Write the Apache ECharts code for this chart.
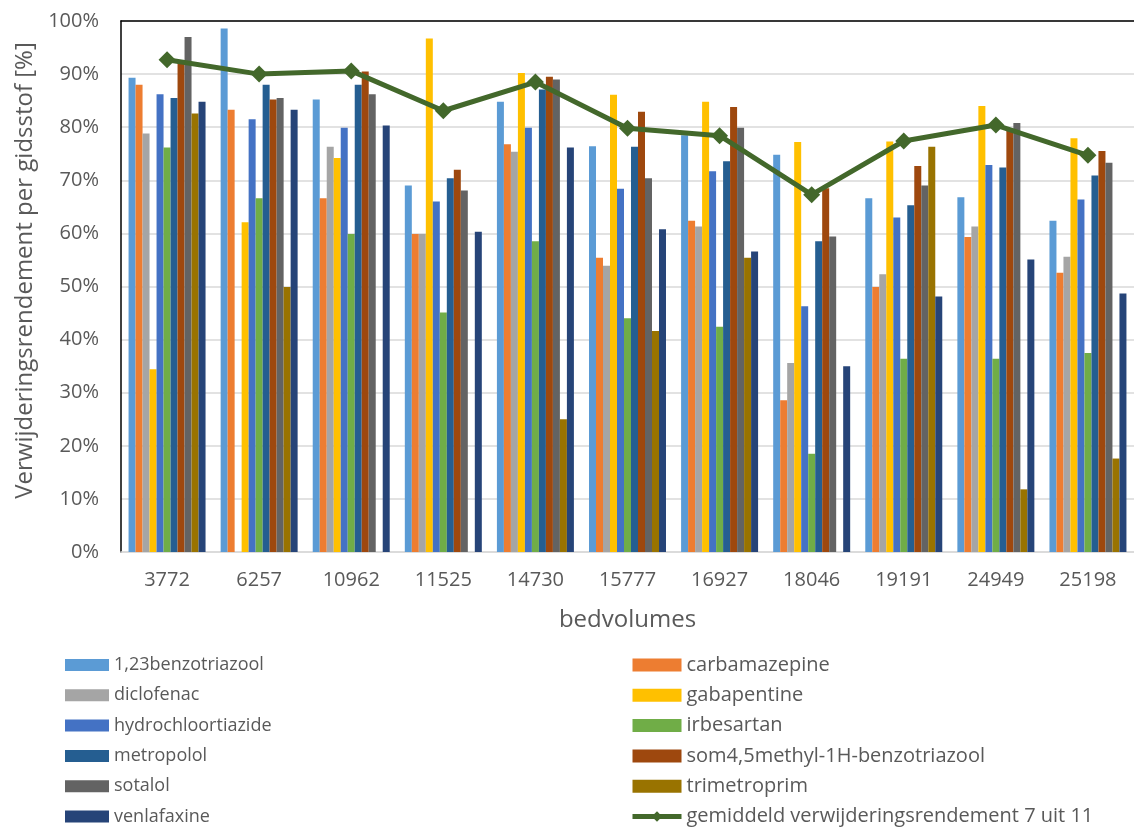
<!DOCTYPE html>
<html>
<head>
<meta charset="utf-8">
<script src="https://cdn.jsdelivr.net/npm/echarts@6/dist/echarts.min.js"></script>
<style>
  html, body { margin: 0; padding: 0; background: #ffffff; }
  #chart { width: 1134px; height: 830px; }
</style>
</head>
<body>
<div id="chart"></div>
<script>
// Bed volumes on the category axis
const bedvolumes = ['3772', '6257', '10962', '11525', '14730', '15777', '16927', '18046', '19191', '24949', '25198'];

// Removal efficiency per guide substance [%] ('-' = no value)
const benzotriazool      = [89.3, 98.6, 85.2, 69.0, 84.8, 76.4, 78.5, 74.8, 66.6, 66.8, 62.4];
const carbamazepine      = [88.0, 83.3, 66.6, 59.9, 76.8, 55.4, 62.4, 28.6, 49.9, 59.3, 52.6];
const diclofenac         = [78.8, '-', 76.3, 59.9, 75.4, 53.9, 61.3, 35.6, 52.3, 61.3, 55.6];
const gabapentine        = [34.4, 62.1, 74.2, 96.7, 90.2, 86.1, 84.8, 77.2, 77.3, 84.0, 77.9];
const hydrochloortiazide = [86.2, 81.5, 79.9, 66.0, 79.9, 68.4, 71.7, 46.3, 63.0, 72.9, 66.4];
const irbesartan         = [76.2, 66.6, 59.9, 45.1, 58.5, 44.0, 42.4, 18.5, 36.4, 36.4, 37.5];
const metropolol         = [85.5, 88.0, 88.0, 70.4, 87.1, 76.3, 73.6, 58.5, 65.3, 72.4, 70.9];
const som45methyl        = [92.3, 85.2, 90.5, 72.0, 89.5, 82.9, 83.8, 68.5, 72.7, 79.8, 75.5];
const sotalol            = [97.0, 85.5, 86.2, 68.1, 89.0, 70.4, 79.9, 59.4, 69.0, 80.8, 73.3];
const trimetroprim       = [82.6, 49.9, '-', '-', 25.0, 41.6, 55.4, '-', 76.3, 11.8, 17.6];
const venlafaxine        = [84.8, 83.3, 80.3, 60.3, 76.2, 60.8, 56.6, 35.0, 48.1, 55.1, 48.7];

// Average removal efficiency of 7 out of 11 substances [%]
const gemiddeld = [92.7, 90.0, 90.6, 83.1, 88.5, 79.8, 78.4, 67.3, 77.4, 80.4, 74.7];

// Y axis ticks [%]
const yMin = 0, yMax = 100, yStep = 10;

const barSeries = [
  { name: '1,23benzotriazool', data: benzotriazool, color: '#5B9BD5' },
  { name: 'carbamazepine', data: carbamazepine, color: '#ED7D31' },
  { name: 'diclofenac', data: diclofenac, color: '#A5A5A5' },
  { name: 'gabapentine', data: gabapentine, color: '#FFC000' },
  { name: 'hydrochloortiazide', data: hydrochloortiazide, color: '#4472C4' },
  { name: 'irbesartan', data: irbesartan, color: '#70AD47' },
  { name: 'metropolol', data: metropolol, color: '#255E91' },
  { name: 'som4,5methyl-1H-benzotriazool', data: som45methyl, color: '#9E480E' },
  { name: 'sotalol', data: sotalol, color: '#636363' },
  { name: 'trimetroprim', data: trimetroprim, color: '#997300' },
  { name: 'venlafaxine', data: venlafaxine, color: '#264478' }
];
const lineName = 'gemiddeld verwijderingsrendement 7 uit 11';
const lineColor = '#43682B';

const textColor = '#595959';
const fontFamily = '"Open Sans", "Liberation Sans", sans-serif';

const series = barSeries.map(s => ({
  name: s.name,
  type: 'bar',
  data: s.data,
  barGap: '0%',
  barCategoryGap: '16.4%',
  itemStyle: { color: s.color },
  emphasis: { disabled: true }
}));
series.push({
  name: lineName,
  type: 'line',
  data: gemiddeld,
  z: 5,
  symbol: 'diamond',
  symbolSize: 17,
  lineStyle: { color: lineColor, width: 5 },
  itemStyle: { color: lineColor },
  emphasis: { disabled: true }
});

// Legend: left column (even entries) and right column (odd entries + average)
const allNames = barSeries.map(s => s.name);
const leftNames = allNames.filter((_, i) => i % 2 === 0).map(n => ({ name: n, icon: 'rect' }));
const rightNames = allNames.filter((_, i) => i % 2 === 1).map(n => ({ name: n, icon: 'rect' }));
rightNames.push({ name: lineName, lineStyle: { width: 5 } });

const chart = echarts.init(document.getElementById('chart'), null, { renderer: 'canvas' });
chart.setOption({
  animation: false,
  backgroundColor: '#ffffff',
  textStyle: { fontFamily: fontFamily },
  grid: { left: 121, top: 21, width: 1018, height: 531, containLabel: false },
  legend: [
    {
      orient: 'vertical', left: 65, top: 655, height: 200, padding: 0,
      itemWidth: 44, itemHeight: 12, itemGap: 10.3,
      textStyle: { color: textColor, fontSize: 18, fontFamily: fontFamily, lineHeight: 20 },
      data: leftNames, selectedMode: false
    },
    {
      orient: 'vertical', left: 630, top: 655, height: 200, padding: 0,
      itemWidth: 49, itemHeight: 13, itemGap: 10.3,
      textStyle: { color: textColor, fontSize: 20, fontFamily: fontFamily, lineHeight: 20 },
      data: rightNames, selectedMode: false
    }
  ],
  xAxis: [
    {
      type: 'category',
      data: bedvolumes,
      name: 'bedvolumes',
      nameLocation: 'middle',
      nameGap: 56,
      nameTextStyle: { color: textColor, fontSize: 24, fontFamily: fontFamily },
      axisLine: { show: true, lineStyle: { color: '#d9d9d9', width: 1.5 } },
      axisTick: { show: false },
      axisLabel: { color: textColor, fontSize: 20, margin: 18, fontFamily: fontFamily }
    },
    {
      type: 'category',
      data: bedvolumes,
      position: 'top',
      axisLine: { show: true, lineStyle: { color: '#000000', width: 1.5 } },
      axisTick: { show: false },
      axisLabel: { show: false }
    }
  ],
  yAxis: {
    type: 'value',
    min: yMin, max: yMax, interval: yStep,
    name: 'Verwijderingsrendement per gidsstof [%]',
    nameLocation: 'middle',
    nameGap: 82,
    nameTextStyle: { color: textColor, fontSize: 24, fontFamily: fontFamily, padding: [0, 0, 0, 32] },
    axisLine: { show: true, lineStyle: { color: '#000000', width: 1.5 } },
    axisTick: { show: false },
    axisLabel: { color: textColor, fontSize: 20, margin: 22, formatter: '{value}%', fontFamily: fontFamily },
    splitLine: { show: true, lineStyle: { color: '#d9d9d9', width: 1.5 } }
  },
  series: series
});
</script>
</body>
</html>
